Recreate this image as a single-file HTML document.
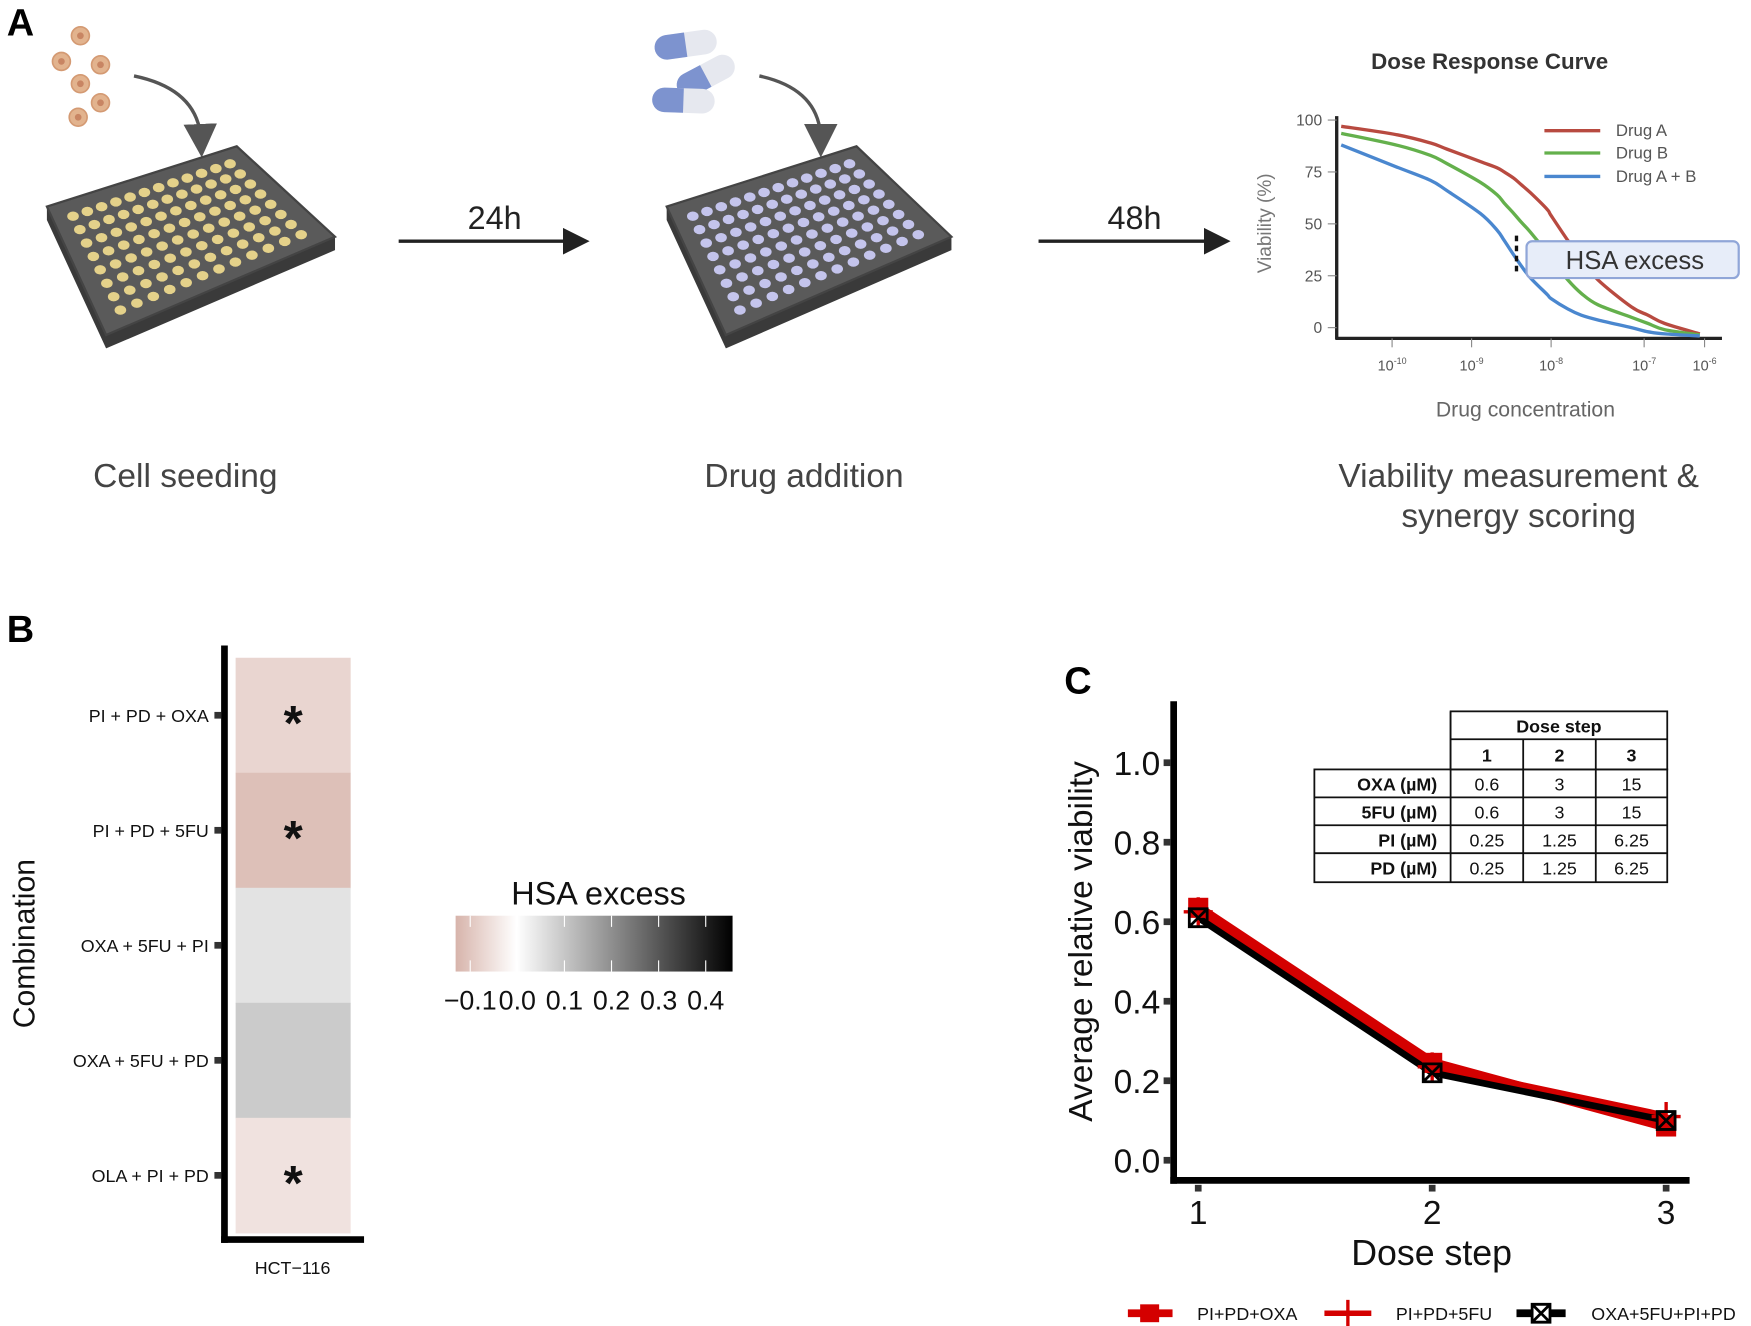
<!DOCTYPE html>
<html><head><meta charset="utf-8"><style>
html,body{margin:0;padding:0;background:#fff;}
svg{display:block;font-family:"Liberation Sans",Arial,sans-serif;}
</style></head><body>
<svg id="fig" width="1751" height="1326" viewBox="0 0 1568 1187.4" xmlns="http://www.w3.org/2000/svg">
<defs>
<linearGradient id="hsaGrad" x1="0" x2="1" y1="0" y2="0">
<stop offset="0" stop-color="#d7b4ab"/><stop offset="0.22" stop-color="#ffffff"/><stop offset="1" stop-color="#000000"/>
</linearGradient>
<marker id="ah" markerWidth="10" markerHeight="10" refX="5" refY="5" orient="auto"><path d="M0,0 L10,5 L0,10 Z" fill="#555"/></marker>
<marker id="ah2" markerWidth="8" markerHeight="8" refX="6" refY="4" orient="auto"><path d="M0,0 L8,4 L0,8 Z" fill="#222"/></marker>
</defs>

<text x="6" y="32" font-size="34" font-weight="bold">A</text>
<g id="cells"></g>
<path d="M120,68 Q178,80 180,126" fill="none" stroke="#555" stroke-width="3" marker-end="url(#ah)"/>
<g id="plate1"></g>
<line x1="357" y1="216" x2="522" y2="216" stroke="#222" stroke-width="3" marker-end="url(#ah2)"/>
<text x="443" y="205" font-size="29" text-anchor="middle" fill="#222">24h</text>
<g id="pills"></g>
<path d="M680,68 Q735,80 735,126" fill="none" stroke="#555" stroke-width="3" marker-end="url(#ah)"/>
<g id="plate2"></g>
<line x1="930" y1="216" x2="1096" y2="216" stroke="#222" stroke-width="3" marker-end="url(#ah2)"/>
<text x="1016" y="205" font-size="29" text-anchor="middle" fill="#222">48h</text>

<text x="1334" y="62" font-size="20" font-weight="bold" text-anchor="middle" fill="#333">Dose Response Curve</text>
<g id="drc"></g>
<text x="166" y="436" font-size="30" text-anchor="middle" fill="#444">Cell seeding</text>
<text x="720" y="436" font-size="30" text-anchor="middle" fill="#444">Drug addition</text>
<text x="1360" y="436" font-size="30" text-anchor="middle" fill="#444">Viability measurement &amp;</text>
<text x="1360" y="472" font-size="30" text-anchor="middle" fill="#444">synergy scoring</text>

<text x="6" y="575" font-size="34" font-weight="bold">B</text>
<g id="heat"></g>

<text x="953" y="621" font-size="34" font-weight="bold">C</text>
<g id="linec"></g>
</svg>
<script>
const NS="http://www.w3.org/2000/svg";
function mk(p,tag,at,txt){const e=document.createElementNS(NS,tag);for(const k in at)e.setAttribute(k,at[k]);if(txt!==undefined)e.textContent=txt;p.appendChild(e);return e;}

const drcLogConc=[-10.64,-9.95,-9.52,-9.31,-8.89,-8.68,-8.59,-8.47,-8.38,-8.26,-8.05,-8.0,-7.79,-7.62,-7.41,-6.99,-6.78,-6.57,-6.13];
const drugA=[97,93,89,86,80,77,75,72,69,65,57,54,42,33,23,10,6,2,-3];
const drugB=[93.6,88,83,79,70,64,60,55,51,46,36,33,23,16.5,11,5,2,-1,-3.5];
const drugAB=[88,77.5,71,66,55,47,42,35,30,24,16,14,9,6,3.7,0,-2,-3,-4];
const drcYTicks=[0,25,50,75,100];
const drcXTickLabels=["-10","-9","-8","-7","-6"];
const drcXTickPos=[-10,-9,-8,-6.83,-6.07];

const combos=["PI + PD + OXA","PI + PD + 5FU","OXA + 5FU + PI","OXA + 5FU + PD","OLA + PI + PD"];
const hsaValues=[-0.073,-0.11,0.05,0.094,-0.05];
const significant=[true,true,false,false,true];
const legendTicks=[-0.1,0.0,0.1,0.2,0.3,0.4];

const doseSteps=[1,2,3];
const viabOXA=[0.635,0.245,0.085];
const viab5FU=[0.625,0.235,0.11];
const viabAll=[0.61,0.22,0.10];
const yTicksC=[0.0,0.2,0.4,0.6,0.8,1.0];
</script>
<script>
(function(){const g=document.getElementById('cells');
[[72,32],[55,55],[90,58],[72,75],[90,92],[70,105]].forEach(c=>{
 const e=mk(g,'circle',{cx:c[0],cy:c[1],r:8,fill:'#e2b38e',stroke:'#d49a73','stroke-width':1.5});
 
 
 mk(g,'circle',{cx:c[0],cy:c[1],r:3,fill:'#c88563'});
});})();

(function(){const g=document.getElementById('pills');
[[614,40,-8],[632,68,-28],[612,90,2]].forEach(p=>{
 const gg=mk(g,'g',{transform:`translate(${p[0]},${p[1]}) rotate(${p[2]})`});
 
 
 mk(gg,'rect',{x:-28,y:-11,width:56,height:22,rx:11,fill:'#e6e8ef'});
 mk(gg,'path',{d:'M0,-11 L-17,-11 A11,11 0 0 0 -17,11 L0,11 Z',fill:'#7d93cf'});
});})();

function plate(id,A,B,C,D,well){
 const g=document.getElementById(id);
 const off=12;
 mk(g,'polygon',{points:`${A[0]},${A[1]} ${D[0]},${D[1]} ${C[0]},${C[1]} ${C[0]},${C[1]+off} ${D[0]},${D[1]+off} ${A[0]},${A[1]+off}`,fill:'#3a3a3a'});
 mk(g,'polygon',{points:`${A[0]},${A[1]} ${B[0]},${B[1]} ${C[0]},${C[1]} ${D[0]},${D[1]}`,fill:'#5a5a5a',stroke:'#444','stroke-width':2});
 function bil(u,v){const x=(1-u)*(1-v)*A[0]+u*(1-v)*B[0]+u*v*C[0]+(1-u)*v*D[0];const y=(1-u)*(1-v)*A[1]+u*(1-v)*B[1]+u*v*C[1]+(1-u)*v*D[1];return [x,y];}
 for(let i=0;i<12;i++)for(let j=0;j<8;j++){
  const p=bil(0.06+0.88*(i+0.5)/12,0.07+0.86*(j+0.5)/8);
  const w=mk(g,'ellipse',{cx:p[0].toFixed(1),cy:p[1].toFixed(1),rx:5.2,ry:4.2,fill:well});
  
  
 }
}
plate('plate1',[42,185],[212,131],[300,212],[95,300],'#e4d18a');
plate('plate2',[597,185],[767,131],[852,212],[650,300],'#c4c4ec');

(function(){const g=document.getElementById('drc');
 const X=l=>1246.6+(l+10)*71.2, Y=v=>293.4-v*1.859;
 mk(g,'line',{x1:1197,y1:104,x2:1197,y2:304,stroke:'#222','stroke-width':3});
 mk(g,'line',{x1:1196,y1:303,x2:1542,y2:303,stroke:'#222','stroke-width':3});
 drcYTicks.forEach(t=>{mk(g,'line',{x1:1189,x2:1197,y1:Y(t),y2:Y(t),stroke:'#888','stroke-width':1});
  const e=mk(g,'text',{x:1184,y:Y(t)+5,'font-size':14,'text-anchor':'end',fill:'#555'},String(t));
  
  });
 drcXTickPos.forEach((p,i)=>{const x=X(p);mk(g,'line',{x1:x,x2:x,y1:303,y2:311,stroke:'#888'});
  const t=mk(g,'text',{x:x,y:332,'font-size':13,'text-anchor':'middle',fill:'#555'});
  
  
  mk(t,'tspan',{},'10');mk(t,'tspan',{dy:-6,'font-size':8},drcXTickLabels[i]);});
 function smooth(vals){const pts=drcLogConc.map((l,i)=>[X(l),Y(vals[i])]);let d=`M${pts[0][0]},${pts[0][1]}`;
  for(let i=0;i<pts.length-1;i++){const p0=pts[Math.max(0,i-1)],p1=pts[i],p2=pts[i+1],p3=pts[Math.min(pts.length-1,i+2)];
   d+=` C${p1[0]+(p2[0]-p0[0])/6},${p1[1]+(p2[1]-p0[1])/6} ${p2[0]-(p3[0]-p1[0])/6},${p2[1]-(p3[1]-p1[1])/6} ${p2[0]},${p2[1]}`;}return d;}
 [[drugA,'#b84a40','Drug A',117,'curve-drug-a'],[drugB,'#64b04c','Drug B',137,'curve-drug-b'],[drugAB,'#4a87cf','Drug A + B',158,'curve-drug-ab']].forEach(s=>{
  const p=mk(g,'path',{d:smooth(s[0]),fill:'none',stroke:s[1],'stroke-width':3});
  
  
  mk(g,'line',{x1:1383,x2:1433,y1:s[3],y2:s[3],stroke:s[1],'stroke-width':3});
  const t=mk(g,'text',{x:1447,y:s[3]+5,'font-size':15,fill:'#555'},s[2]);
  
  
 });
 mk(g,'line',{x1:1358,x2:1358,y1:211,y2:246,stroke:'#111','stroke-width':3,'stroke-dasharray':'5,4'});
 const b=mk(g,'rect',{x:1367,y:216,width:190,height:33,rx:5,fill:'#e7edf9',stroke:'#90a6d8','stroke-width':2});
 
 
 mk(g,'text',{x:1464,y:241,'font-size':23,'text-anchor':'middle',fill:'#333'},'HSA excess');
 const yl=mk(g,'text',{x:0,y:0,'font-size':17,'text-anchor':'middle',fill:'#777',transform:'translate(1138,200) rotate(-90)'},'Viability (%)');
 
 
 const xl=mk(g,'text',{x:1366,y:373,'font-size':19,'text-anchor':'middle',fill:'#666'},'Drug concentration');
 
 
})();

(function(){const g=document.getElementById('heat');
 const top=589,rowH=103,x0=211,w=103;
 const neg=[215,180,171];
 function col(v){if(v<0){const t=Math.min(1,-v/0.131);return `rgb(${neg.map(c=>Math.round(255+(c-255)*t)).join(',')})`;}
  const t=Math.min(1,v/0.457);const c=Math.round(255*(1-t));return `rgb(${c},${c},${c})`;}
 combos.forEach((c,i)=>{const y=top+i*rowH;
  const r=mk(g,'rect',{x:x0,y:y,width:w,height:rowH+0.5,fill:col(hsaValues[i])});
  
  
  if(significant[i]){const s=mk(g,'text',{x:x0+w/2,y:y+rowH/2+22,'font-size':44,'font-weight':'bold','text-anchor':'middle',fill:'#111'},'*');
   
   }
  mk(g,'rect',{x:192,y:y+rowH/2-3,width:6,height:6,fill:'#333'});
  const t=mk(g,'text',{x:187,y:y+rowH/2+6,'font-size':16,'text-anchor':'end',fill:'#111'},c);
  
  
 });
 mk(g,'line',{x1:201,y1:578,x2:201,y2:1113,stroke:'#000','stroke-width':6});
 mk(g,'line',{x1:198,y1:1110,x2:326,y2:1110,stroke:'#000','stroke-width':6});
 const xl=mk(g,'text',{x:262,y:1141,'font-size':16,'text-anchor':'middle',fill:'#111'},'HCT\u2212116');
 
 
 const yt=mk(g,'text',{x:0,y:0,'font-size':27,'text-anchor':'middle',fill:'#111',transform:'translate(31,845) rotate(-90)'},'Combination');
 
 
 const lx0=408,lx1=656,vmin=-0.131,vmax=0.457;const LX=v=>lx0+(v-vmin)/(vmax-vmin)*(lx1-lx0);
 const lt=mk(g,'text',{x:536,y:810,'font-size':29,'text-anchor':'middle',fill:'#111'},'HSA excess');
 
 
 const lb=mk(g,'rect',{x:lx0,y:820,width:lx1-lx0,height:50,fill:'url(#hsaGrad)'});
 
 
 legendTicks.forEach(v=>{const x=LX(v);
  mk(g,'line',{x1:x,x2:x,y1:820,y2:830,stroke:'#fff','stroke-width':1});
  mk(g,'line',{x1:x,x2:x,y1:860,y2:870,stroke:'#fff','stroke-width':1});
  const t=mk(g,'text',{x:x,y:904,'font-size':24,'text-anchor':'middle',fill:'#111'},(v<0?'\u2212':'')+Math.abs(v).toFixed(1));
  
  
 });
})();

(function(){const g=document.getElementById('linec');
 const X=s=>1073+(s-1)*209.5, Y=v=>1039-v*356;
 const tb=mk(g,'g',{'font-size':16,'font-weight':'bold',fill:'#111'});
 
 
 const cx=[1177,1299,1364,1429,1493], ry=[637,662,689,714,739,764,790];
 const st={fill:'none',stroke:'#111','stroke-width':1.6};
 mk(tb,'rect',Object.assign({x:1299,y:637,width:194,height:52},st));
 mk(tb,'rect',Object.assign({x:1177,y:689,width:316,height:101},st));
 mk(tb,'line',Object.assign({x1:1299,x2:1493,y1:662,y2:662},st));
 [714,739,764].forEach(y=>mk(tb,'line',Object.assign({x1:1177,x2:1493,y1:y,y2:y},st)));
 [1299,1364,1429].forEach(x=>mk(tb,'line',Object.assign({x1:x,x2:x,y1:x===1299?637:662,y2:790},st)));
 mk(tb,'text',{x:1396,y:656,'text-anchor':'middle'},'Dose step');
 ['1','2','3'].forEach((t,i)=>mk(tb,'text',{x:(cx[i+1]+cx[i+2])/2,y:682,'text-anchor':'middle'},t));
 const rows=[['OXA (\u00b5M)','0.6','3','15'],['5FU (\u00b5M)','0.6','3','15'],['PI (\u00b5M)','0.25','1.25','6.25'],['PD (\u00b5M)','0.25','1.25','6.25']];
 rows.forEach((r,j)=>{const y=ry[2+j]+19;
  mk(tb,'text',{x:1287,y:y,'text-anchor':'end'},r[0]);
  for(let k=1;k<4;k++)mk(tb,'text',{x:(cx[k]+cx[k+1])/2,y:y,'text-anchor':'middle','font-weight':'normal'},r[k]);});
 mk(g,'line',{x1:1051,y1:628,x2:1051,y2:1060,stroke:'#000','stroke-width':6});
 mk(g,'line',{x1:1048,y1:1057,x2:1513,y2:1057,stroke:'#000','stroke-width':6});
 yTicksC.forEach(v=>{mk(g,'rect',{x:1042,y:Y(v)-3,width:6,height:6,fill:'#333'});
  const t=mk(g,'text',{x:1039,y:Y(v)+11,'font-size':30,'text-anchor':'end',fill:'#111'},v.toFixed(1));
  
  });
 doseSteps.forEach(s=>{mk(g,'rect',{x:X(s)-3,y:1061,width:6,height:6,fill:'#333'});
  const t=mk(g,'text',{x:X(s),y:1096,'font-size':30,'text-anchor':'middle',fill:'#111'},String(s));
  
  });
 const xt=mk(g,'text',{x:1282,y:1133,'font-size':32,'text-anchor':'middle',fill:'#111'},'Dose step');
 
 
 const yt=mk(g,'text',{x:0,y:0,'font-size':30,'text-anchor':'middle',fill:'#111',transform:'translate(978,843) rotate(-90)'},'Average relative viability');
 
 
 function line(vals,color,w,name){const d=vals.map((v,i)=>(i?'L':'M')+X(doseSteps[i])+','+Y(v)).join(' ');
  const p=mk(g,'path',{d:d,fill:'none',stroke:color,'stroke-width':w,'stroke-linejoin':'round'});
  
  }
 line(viabOXA,'#d40000',9,'line-pi-pd-oxa');
 line(viab5FU,'#d40000',7,'line-pi-pd-5fu');
 line(viabAll,'#000',6,'line-oxa-5fu-pi-pd');
 viabOXA.forEach((v,i)=>{const m=mk(g,'rect',{x:X(doseSteps[i])-9,y:Y(v)-9,width:18,height:18,fill:'#d40000'});
  
  });
 viab5FU.forEach((v,i)=>{const x=X(doseSteps[i]),y=Y(v);
  const m=mk(g,'path',{d:`M${x-13},${y}H${x+13}M${x},${y-13}V${y+13}`,stroke:'#d40000','stroke-width':3});
  
  });
 viabAll.forEach((v,i)=>{const x=X(doseSteps[i]),y=Y(v);
  const m=mk(g,'path',{d:`M${x-8},${y-8}h16v16h-16z M${x-8},${y-8}L${x+8},${y+8}M${x+8},${y-8}L${x-8},${y+8}`,fill:'none',stroke:'#000','stroke-width':2.5});
  
  });
 const ly=1176;
 mk(g,'line',{x1:1010,x2:1050,y1:ly,y2:ly,stroke:'#d40000','stroke-width':7});
 mk(g,'rect',{x:1021,y:ly-8,width:17,height:16,fill:'#d40000'});
 mk(g,'line',{x1:1186,x2:1228,y1:ly,y2:ly,stroke:'#d40000','stroke-width':5});
 mk(g,'line',{x1:1207,x2:1207,y1:ly-12,y2:ly+12,stroke:'#d40000','stroke-width':3});
 mk(g,'line',{x1:1358,x2:1402,y1:ly,y2:ly,stroke:'#000','stroke-width':7});
 mk(g,'path',{d:`M1372,${ly-8}h16v16h-16z M1372,${ly-8}L1388,${ly+8}M1388,${ly-8}L1372,${ly+8}`,fill:'#fff',stroke:'#000','stroke-width':2.5});
 [['PI+PD+OXA',1072],['PI+PD+5FU',1250],['OXA+5FU+PI+PD',1425]].forEach(l=>{
  const t=mk(g,'text',{x:l[1],y:ly+6,'font-size':16,fill:'#111'},l[0]);
  
  });
})();
</script>
</body></html>
